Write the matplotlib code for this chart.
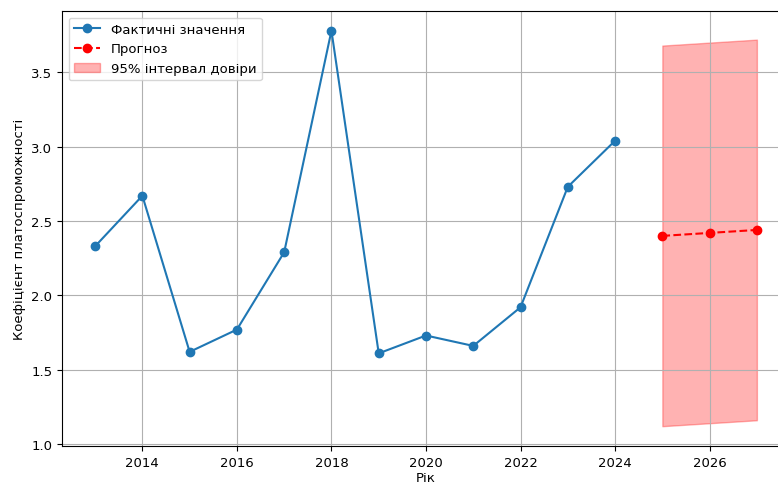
import matplotlib
matplotlib.use("Agg")
import matplotlib.pyplot as plt

years = [2013, 2014, 2015, 2016, 2017, 2018, 2019, 2020, 2021, 2022, 2023, 2024]
ratio = [2.33, 2.67, 1.62, 1.77, 2.29, 3.78, 1.61, 1.73, 1.66, 1.92, 2.73, 3.04]

forecast_years = [2025, 2026, 2027]
forecast = [2.40, 2.42, 2.44]
ci_lower = [1.12, 1.14, 1.16]
ci_upper = [3.68, 3.70, 3.72]

plt.rcParams["font.size"] = 9.5

fig = plt.figure(figsize=(7.78, 4.85), dpi=100)
ax = fig.add_axes([0.0797, 0.0784, 0.9357, 0.897])

ax.plot(years, ratio, marker="o", color="#1f77b4", label="Фактичні значення")
ax.plot(forecast_years, forecast, marker="o", linestyle="--", color="red", label="Прогноз")
ax.fill_between(forecast_years, ci_lower, ci_upper, color="red", alpha=0.3,
                label="95% інтервал довіри")

ax.set_xlabel("Рік", labelpad=2)
ax.set_ylabel("Коефіцієнт платоспроможності", labelpad=4)
ax.set_yticks([1.0, 1.5, 2.0, 2.5, 3.0, 3.5])
ax.grid(True)
ax.legend(loc="upper left")

fig.savefig("out.png", dpi=100)
